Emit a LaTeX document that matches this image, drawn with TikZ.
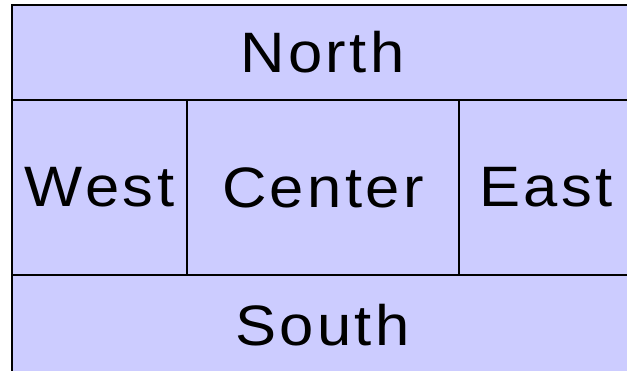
\documentclass[tikz,border=0pt]{standalone}
\usepackage{fontspec}
\newfontfamily\regionfont[FakeStretch=1.08, LetterSpace=6]{Liberation Sans}
\usepackage{tikz}
\usetikzlibrary{positioning}

\begin{document}
\begin{tikzpicture}[
    x=1pt, y=-1pt,
    region/.style={rectangle, draw, line width=2pt, fill=blue!20, anchor=north west,
        inner sep=0pt, outer sep=0pt, font=\regionfont\fontsize{57}{60}\selectfont,
        minimum width=#1},
    band/.style={region=621pt, minimum height=95pt},
    side/.style={region=#1, minimum height=175pt}
]
\useasboundingbox (0,0) rectangle (627,370);
\clip (0,0) rectangle (627,370);

% top and bottom bands
\node[band] (north) at (12,5) {North};
\node[band, minimum height=105pt] (south) at (12,275) {\raisebox{5pt}{South}};

% middle row
\node[side=175pt] (west) at (12,100) {West};
\node[side=272pt] (center) at (187,100) {Center};
\node[side=174pt] (east) at (459,100) {East};

\end{tikzpicture}
\end{document}
